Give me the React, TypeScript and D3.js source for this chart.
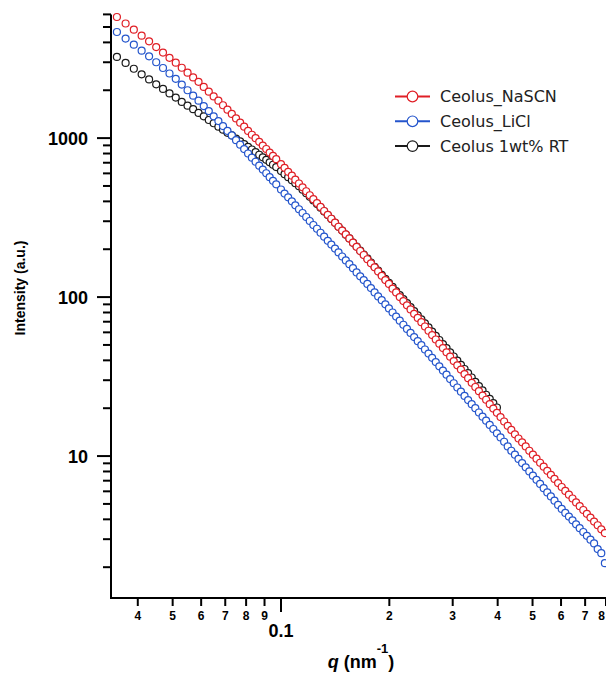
import * as d3 from 'd3'

// q grid (nm^-1), shared by the three curves
const q = [
  0.035, 0.037, 0.039, 0.041, 0.043, 0.045, 0.047, 0.049, 0.051, 0.053, 0.055, 0.057, 0.059, 0.061, 0.063, 0.065,
  0.067, 0.069, 0.071, 0.073, 0.075, 0.077, 0.079, 0.081, 0.083, 0.085, 0.087, 0.089, 0.091, 0.093, 0.095, 0.097,
  0.1, 0.1023, 0.1047, 0.1072, 0.1096, 0.1122, 0.1148, 0.1175, 0.1202, 0.123, 0.1259, 0.1288, 0.1318, 0.1349,
  0.138, 0.1413, 0.1445, 0.1479, 0.1514, 0.1549, 0.1585, 0.1622, 0.166, 0.1698, 0.1738, 0.1778, 0.182, 0.1862,
  0.1905, 0.195, 0.1995, 0.2042, 0.2089, 0.2138, 0.2188, 0.2239, 0.2291, 0.2344, 0.2399, 0.2455, 0.2512, 0.257,
  0.263, 0.2692, 0.2754, 0.2818, 0.2884, 0.2951, 0.302, 0.309, 0.3162, 0.3236, 0.3311, 0.3388, 0.3467, 0.3548,
  0.3631, 0.3715, 0.3802, 0.389, 0.3981, 0.4074, 0.4169, 0.4266, 0.4365, 0.4467, 0.4571, 0.4677, 0.4786, 0.4898,
  0.5012, 0.5129, 0.5248, 0.537, 0.5495, 0.5623, 0.5754, 0.5888, 0.6026, 0.6166, 0.631, 0.6457, 0.6607, 0.6761,
  0.6918, 0.7079, 0.7244, 0.7413, 0.7586, 0.7762, 0.7943,
]

const naSCN = [
  5780, 5260, 4810, 4410, 4060, 3740, 3450, 3200, 2980, 2770, 2580, 2410, 2260, 2100, 1960, 1830, 1720, 1610, 1510,
  1420, 1330, 1250, 1180, 1110, 1050, 999, 947, 897, 854, 811, 773, 737,
  686, 650, 614, 580, 548, 518, 490, 463, 437, 413, 390, 369, 348, 329, 311, 294, 277, 262, 248, 234, 220, 207, 195,
  184, 173, 163, 154, 145, 136, 128, 121, 113, 107, 100, 94.4, 88.8, 83.6, 78.5, 73.9, 69.5, 65.3, 61.4, 57.7, 54.1,
  50.9, 47.8, 44.9, 42.2, 39.6, 37.2, 35.0, 32.8, 30.9, 28.9, 27.2, 25.6, 24.0, 22.6, 21.2, 19.9, 18.7, 17.6, 16.5,
  15.5, 14.6, 13.7, 12.9, 12.2, 11.5, 10.8, 10.2, 9.63, 9.08, 8.57, 8.07, 7.62, 7.18, 6.76, 6.39, 6.04, 5.72, 5.41,
  5.11, 4.84, 4.58, 4.33, 4.1, 3.87, 3.67, 3.46, 3.28,
]

const liCl = [
  4650, 4230, 3870, 3550, 3270, 3000, 2760, 2550, 2360, 2170, 2000, 1850, 1720, 1590, 1480, 1370, 1280, 1190, 1110,
  1040, 970, 909, 853, 800, 753, 710, 671, 634, 601, 568, 539, 512,
  475, 448, 424, 400, 378, 357, 338, 319, 301, 284, 269, 254, 240, 226, 214, 202, 191, 180, 170, 161, 152, 143, 135,
  128, 121, 114, 107, 101, 95.6, 90.1, 84.9, 80.0, 75.4, 71.1, 67.0, 63.1, 59.5, 56.0, 52.8, 49.8, 46.8, 44.1, 41.5,
  39.0, 36.7, 34.5, 32.5, 30.5, 28.7, 27.0, 25.4, 23.9, 22.5, 21.2, 20.0, 18.8, 17.7, 16.7, 15.7, 14.8, 13.9, 13.1,
  12.3, 11.5, 10.8, 10.2, 9.59, 9.04, 8.5, 8.0, 7.53, 7.09, 6.68, 6.28, 5.91, 5.57, 5.24, 4.93, 4.65, 4.39, 4.16,
  3.94, 3.72, 3.52, 3.33, 3.15, 2.98, 2.82, 2.6, 2.45, 2.12,
]

// RT curve stops near q = 0.4
const rt = [
  3240, 2970, 2730, 2520, 2340, 2180, 2040, 1910, 1800, 1690, 1600, 1520, 1440, 1370, 1300, 1240, 1180, 1130, 1080,
  1040, 993, 953, 917, 882, 848, 817, 786, 757, 730, 704, 680, 657,
  620, 593, 568, 544, 520, 498, 474, 450, 427, 405, 385, 365, 346, 328, 310, 293, 277, 262, 247, 234, 220, 208, 196,
  185, 175, 165, 155, 147, 138, 130, 123, 116, 109, 103, 97.1, 91.7, 86.4, 81.5, 76.8, 72.5, 68.3, 64.4, 60.6, 57.1,
  53.7, 50.6, 47.7, 44.9, 42.3, 39.8, 37.5, 35.3, 33.2, 31.2, 29.3, 27.5, 25.9, 24.3, 22.9, 21.5, 20.2,
]

const seriesNames = ['Ceolus_NaSCN', 'Ceolus_LiCl', 'Ceolus 1wt% RT']
const seriesColors = ['#e01f26', '#2455cc', '#1a1a1a']

const xMinorTicks = [0.04, 0.05, 0.06, 0.07, 0.08, 0.09, 0.2, 0.3, 0.4, 0.5, 0.6, 0.7, 0.8]
const xMinorLabels = ['4', '5', '6', '7', '8', '9', '2', '3', '4', '5', '6', '7', '8']
const xMajorTicks = [0.1]
const xMajorLabels = ['0.1']
const yMajorTicks = [10, 100, 1000]
const yMajorLabels = ['10', '100', '1000']

const W = 606
const H = 673
const numFont = '"Liberation Sans", Arial, sans-serif'

export default function App() {
  const x = d3.scaleLog().domain([0.0337, 0.8]).range([111, 606])
  const y = d3.scaleLog().domain([1.28, 6000]).range([598, 14.4])

  const yMinor = y.ticks().filter((t) => !yMajorTicks.includes(t))

  const allSeries = [naSCN, liCl, rt]
  // draw black first, then blue, red on top
  const drawOrder = [2, 1, 0]

  return (
    <svg width={W} height={H} style={{ position: 'absolute', left: 0, top: 0, background: '#fff' }}>
      {drawOrder.map((si) => (
        <g key={si} fill="#fff" stroke={seriesColors[si]} strokeWidth={1.2}>
          {allSeries[si].map((v, i) => (
            <circle key={i} cx={x(q[i])} cy={y(v)} r={3.5} />
          ))}
        </g>
      ))}

      {/* axes */}
      <g stroke="#000" strokeWidth={2}>
        <line x1={111} x2={111} y1={y(6000)} y2={599} />
        <line x1={110} x2={606} y1={598} y2={598} />
        {yMinor.map((t) => (
          <line key={'ym' + t} x1={103} x2={111} y1={y(t)} y2={y(t)} />
        ))}
        {yMajorTicks.map((t) => (
          <line key={'yM' + t} x1={97} x2={111} y1={y(t)} y2={y(t)} />
        ))}
        {xMinorTicks.map((t) => (
          <line key={'xm' + t} x1={x(t)} x2={x(t)} y1={598} y2={606} />
        ))}
        {xMajorTicks.map((t) => (
          <line key={'xM' + t} x1={x(t)} x2={x(t)} y1={598} y2={612} />
        ))}
      </g>

      <g fontFamily={numFont} fontWeight="bold" fill="#000">
        {yMajorTicks.map((t, i) => (
          <text key={'yl' + t} x={88} y={y(t) + 6.5} fontSize={18} textAnchor="end">
            {yMajorLabels[i]}
          </text>
        ))}
        {xMinorTicks.map((t, i) => (
          <text key={'xl' + t} x={Math.min(x(t), 601.5)} y={620} fontSize={12} textAnchor="middle">
            {xMinorLabels[i]}
          </text>
        ))}
        {xMajorTicks.map((t, i) => (
          <text key={'xL' + t} x={x(t)} y={637} fontSize={18} textAnchor="middle">
            {xMajorLabels[i]}
          </text>
        ))}
        <text transform="translate(25,288) rotate(-90)" fontSize={14} textAnchor="middle">
          Intensity (a.u.)
        </text>
        <text x={361} y={668} fontSize={18} textAnchor="middle">
          <tspan fontStyle="italic">q</tspan> (nm
          <tspan dy={-15} fontSize={13}>-1</tspan>
          <tspan dy={15}>)</tspan>
        </text>
      </g>

      {/* legend */}
      {seriesNames.map((name, i) => {
        const ly = 96.5 + i * 24.8
        return (
          <g key={name}>
            <line x1={395} x2={430} y1={ly} y2={ly} stroke={seriesColors[i]} strokeWidth={2} />
            <circle cx={412.5} cy={ly} r={5.3} fill="#fff" stroke={seriesColors[i]} strokeWidth={1.2} />
            <text x={440} y={ly + 5.8} fontFamily='"DejaVu Sans", Verdana, sans-serif' fontSize={16} fill="#222">
              {name}
            </text>
          </g>
        )
      })}
    </svg>
  )
}
